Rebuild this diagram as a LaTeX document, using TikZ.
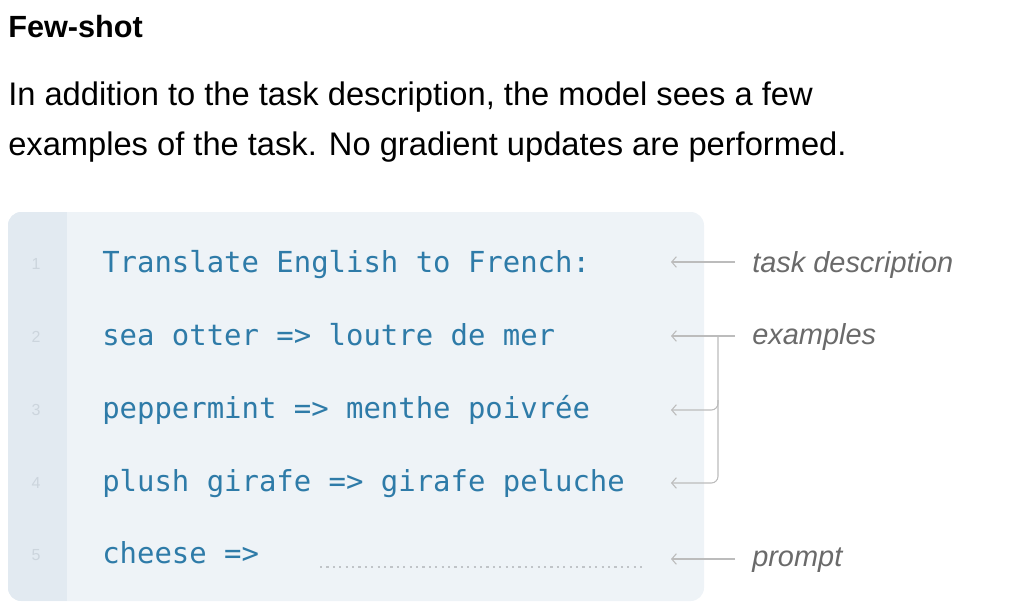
\documentclass[tikz,border=0pt]{standalone}
\usepackage{fontspec}
\setmainfont{Liberation Sans}
\setmonofont{DejaVu Sans Mono}
\usetikzlibrary{arrows,arrows.meta}

\definecolor{codebg}{HTML}{EEF3F7}
\definecolor{gutterbg}{HTML}{E2EAF1}
\definecolor{codeblue}{HTML}{2E7BA8}
\definecolor{labelgray}{HTML}{6A6A6A}
\definecolor{arrowgray}{HTML}{BCBCBC}
\definecolor{numgray}{HTML}{CCD5DD}
\definecolor{dotgray}{HTML}{C0C4C8}

\begin{document}
\begin{tikzpicture}[x=0.75pt,y=-0.75pt,
    codeline/.style={anchor=base west, inner sep=0, text=codeblue,
      font=\ttfamily\fontsize{21.7}{24}\selectfont},
    lineno/.style={anchor=base, inner sep=0, text=numgray,
      font=\fontsize{12}{14}\selectfont},
    tag/.style={anchor=base west, inner sep=0, text=labelgray,
      font=\itshape\fontsize{21.7}{26}\selectfont},
    pointer/.style={draw=arrowgray, line width=0.8pt,
      -{Straight Barb[length=3.5pt,width=8pt]}}]
    \useasboundingbox (0,0) rectangle (1024,608);
    % heading and text
    \node[anchor=base west, inner sep=0, font=\bfseries\fontsize{23}{26}\selectfont] (title) at (8,37) {Few-shot};
    \node[anchor=base west, inner sep=0, font=\fontsize{24.5}{28}\selectfont] (line1) at (8,105)
      {In addition to the task description, the model sees a few};
    \node[anchor=base west, inner sep=0, font=\fontsize{24.5}{28}\selectfont] (line2) at (8,155)
      {examples of the task. No gradient updates are performed.};
    % code panel
    \fill[codebg, rounded corners=10pt] (8,212) rectangle (704,601);
    \begin{scope}
      \clip[rounded corners=10pt] (8,212) rectangle (704,601);
      \fill[gutterbg] (8,212) rectangle (67,601);
    \end{scope}
    \foreach \n/\y in {1/272, 2/345, 3/418, 4/491, 5/563}
      \node[lineno] (num\n) at (36,\y-3) {\n};
    \node[codeline] (task) at (102,272) {Translate English to French:};
    \node[codeline] (ex1) at (102,345) {sea otter => loutre de mer};
    \node[codeline] (ex2) at (102,418) {peppermint => menthe poivrée};
    \node[codeline] (ex3) at (102,491) {plush girafe => girafe peluche};
    \node[codeline] (query) at (102,563) {cheese =>};
    \coordinate (blank0) at (320,567);
    \coordinate (blank1) at (645,567);
    \draw[dotgray, line width=1.3pt, dash pattern=on 1.6pt off 3.2pt] (blank0) -- (blank1);
    % labels on the right
    \node[tag] (desc) at (752,272) {task description};
    \node[tag] (exlabel) at (752,344) {examples};
    \node[tag] (prompt) at (752,566) {prompt};
    \coordinate (d0) at (735,262);  \coordinate (d1) at (671,262);
    \coordinate (e0) at (735,336);  \coordinate (e1) at (671,336);
    \coordinate (e2) at (671,410);  \coordinate (e3) at (671,483);
    \coordinate (p0) at (735,559);  \coordinate (p1) at (671,559);
    \draw[pointer] (d0) -- (d1);
    \draw[pointer] (e0) -- (e1);
    \draw[pointer] (p0) -- (p1);
    \draw[pointer, rounded corners=5pt] (718,336) -- (718,410) -- (e2);
    \draw[pointer, rounded corners=5pt] (718,400) -- (718,483) -- (e3);
  \end{tikzpicture}
\end{document}
